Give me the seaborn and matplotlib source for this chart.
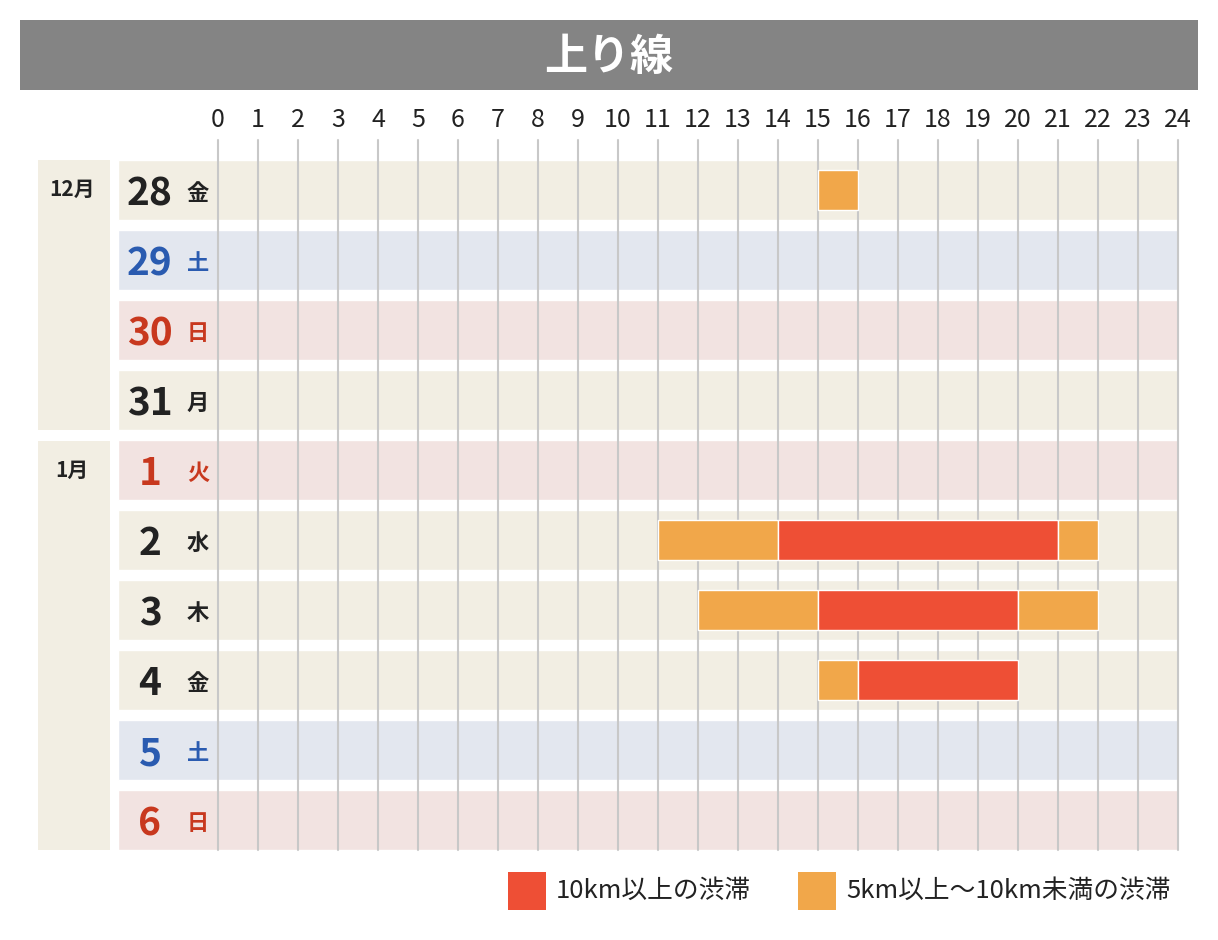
import matplotlib
matplotlib.use("Agg")
import matplotlib.pyplot as plt
from matplotlib.patches import Rectangle
import seaborn as sns

sns.set_theme(style="white")
plt.rcParams["font.family"] = "Noto Sans CJK JP"

days = ["28", "29", "30", "31", "1", "2", "3", "4", "5", "6"]
weekdays = ["金", "土", "日", "月", "火", "水", "木", "金", "土", "日"]
day_kind = ["w", "sat", "sun", "w", "sun", "w", "w", "w", "sat", "sun"]
hours = list(range(25))
# congestion segments: (row, start, end, level) level 1 = >=10km, 2 = 5-10km
seg_row = [0, 5, 5, 5, 6, 6, 6, 7, 7]
seg_start = [15, 11, 14, 21, 12, 15, 20, 15, 16]
seg_end = [16, 14, 21, 22, 15, 20, 22, 16, 20]
seg_level = [2, 2, 1, 2, 2, 1, 2, 2, 1]
legend_labels = ["10km以上の渋滞", "5km以上～10km未満の渋滞"]

band_col = {"w": "#F2EEE3", "sat": "#E3E7EF", "sun": "#F2E3E1"}
txt_col = {"w": "#222222", "sat": "#2A5BB0", "sun": "#C8381E"}
lvl_col = {1: "#EE4F35", 2: "#F1A74A"}

W, H = 1218, 940
fig = plt.figure(figsize=(W / 100, H / 100), dpi=100)
fig.patch.set_facecolor("white")

def fx(px): return px / W
def fy(py): return 1 - py / H

# title bar
fig.patches.append(Rectangle((fx(20), fy(90)), fx(1178), 70 / H, transform=fig.transFigure,
                             facecolor="#848484", edgecolor="none"))
fig.text(fx(609), fy(57), "上り線", color="white", fontsize=31, fontweight="bold",
         ha="center", va="center")

# month boxes
for y0, y1, lab in [(160, 430, "12月"), (441, 850, "1月")]:
    fig.patches.append(Rectangle((fx(38), fy(y1)), 72 / W, (y1 - y0) / H, transform=fig.transFigure,
                                 facecolor="#F2EEE3", edgecolor="none"))
    fig.text(fx(72), fy(y0 + 29), lab, fontsize=15, fontweight="bold", color="#222222",
             ha="center", va="center")

ax = fig.add_axes([fx(118), fy(850), (1178 - 118) / W, 690 / H])
ax.set_xlim(-2.5, 24)
ax.set_ylim(9 + 30 / 70, -30 / 70)
ax.axis("off")

bh = 60 / 70
for i, k in enumerate(day_kind):
    ax.barh(i, 26.5, left=-2.5, height=bh, color=band_col[k], zorder=1)
    ax.text(-1.7, i + 0.05, days[i], fontsize=28, fontweight="bold", color=txt_col[k],
            ha="center", va="center")
    ax.text(-0.5, i + 0.05, weekdays[i], fontsize=16, fontweight="bold", color=txt_col[k],
            ha="center", va="center")

for r, s, e, l in zip(seg_row, seg_start, seg_end, seg_level):
    ax.barh(r, e - s, left=s, height=40 / 70, color=lvl_col[l], zorder=3)

for h in hours:
    ax.plot([h, h], [9 + 30 / 70, -50 / 70], color="#C8C8C8", lw=1.5, zorder=2, clip_on=False)
    ax.text(h, -1.0, str(h), fontsize=18, color="#222222", ha="center", va="center")

# legend
for x0, lvl, lab in [(508, 1, legend_labels[0]), (798, 2, legend_labels[1])]:
    fig.patches.append(Rectangle((fx(x0), fy(910)), 38 / W, 38 / H, transform=fig.transFigure,
                                 facecolor=lvl_col[lvl], edgecolor="none"))
    fig.text(fx(x0 + 48), fy(891), lab, fontsize=18.5, color="#222222", ha="left", va="center")

fig.savefig("out.png", dpi=100)
